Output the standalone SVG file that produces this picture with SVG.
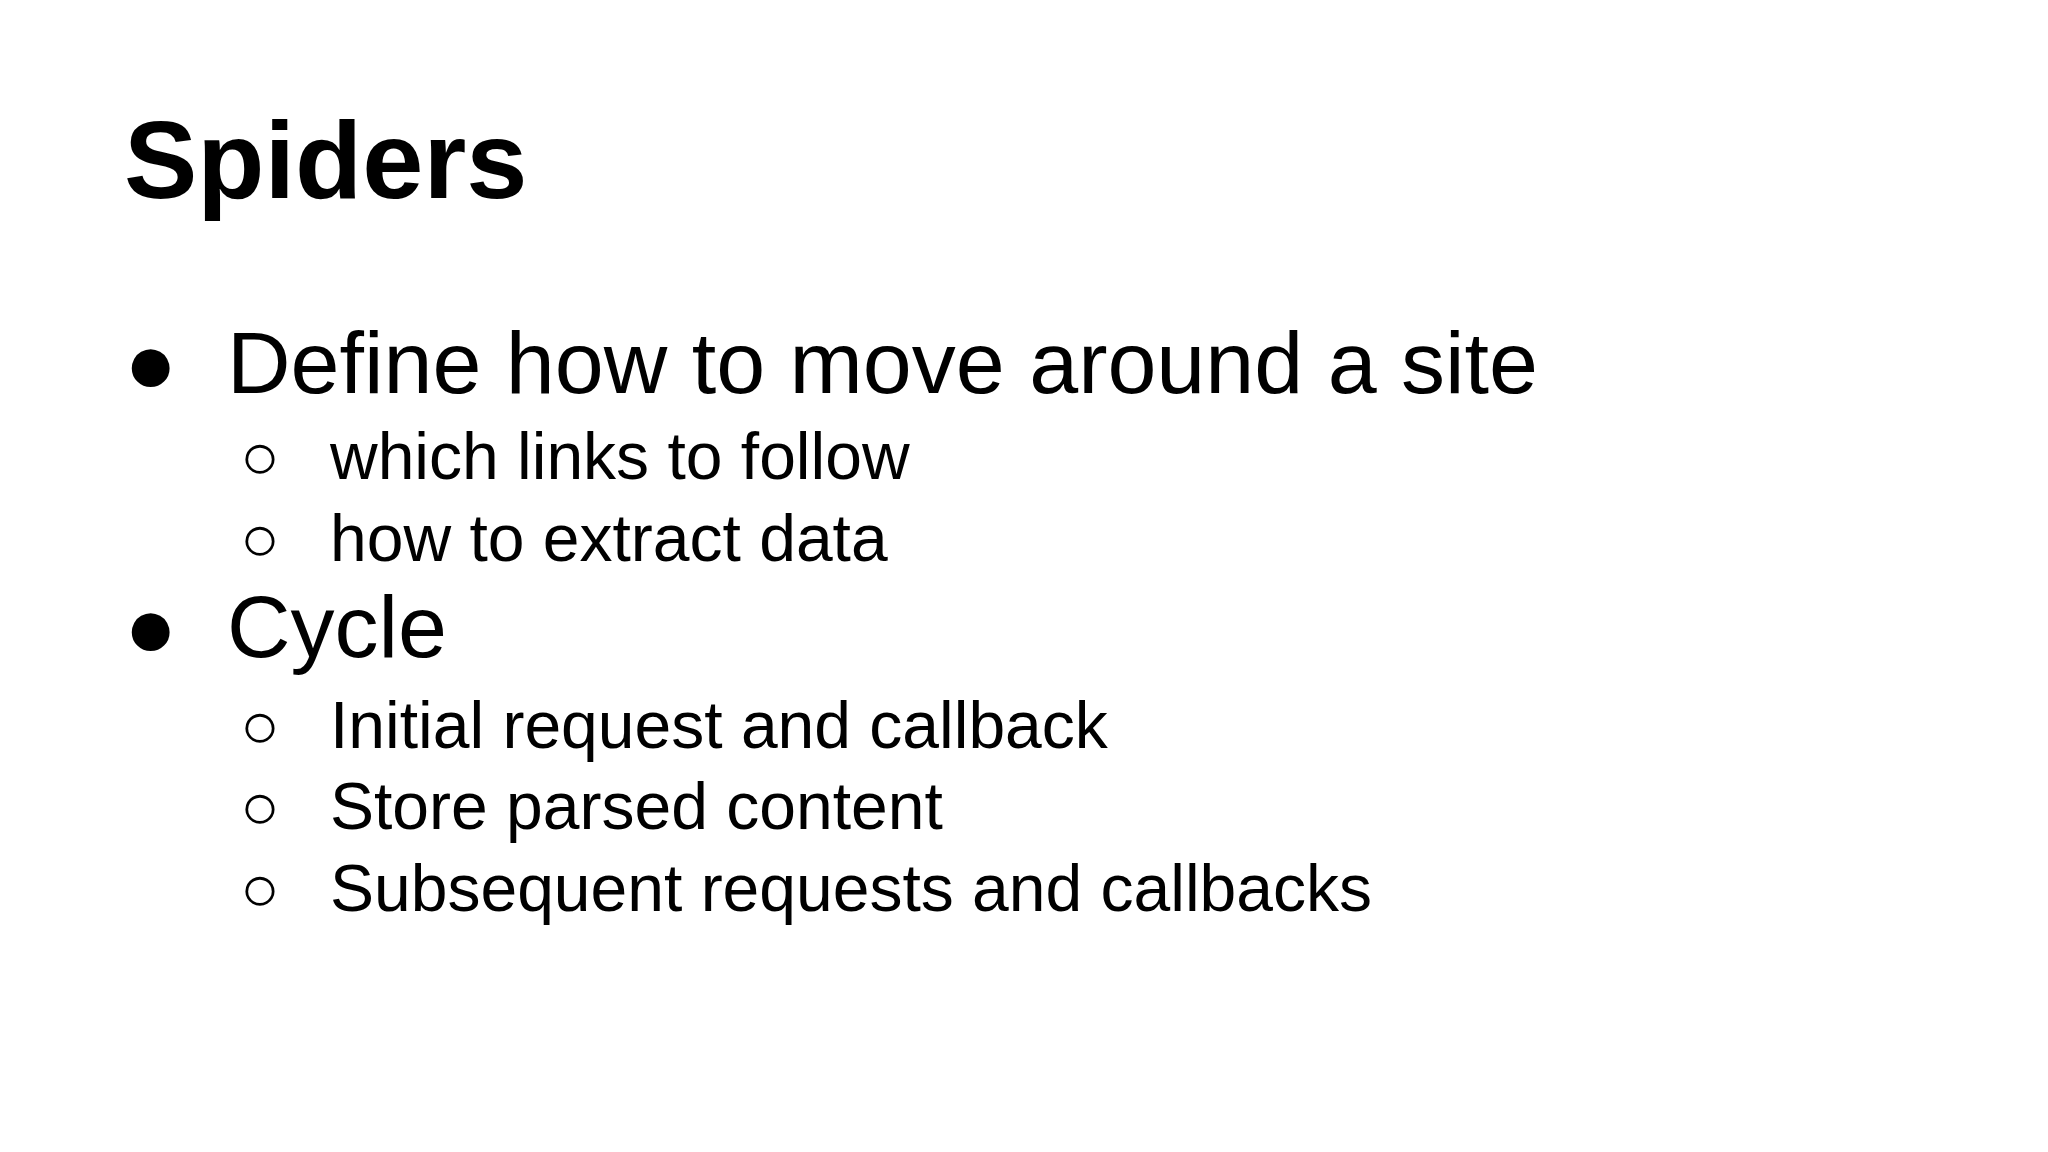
<svg xmlns="http://www.w3.org/2000/svg" width="2048" height="1152" viewBox="0 0 2048 1152">
<style>
text{font-family:"Liberation Sans",Arial,sans-serif;fill:#000}
.t{font-size:110px;font-weight:bold}
.l1{font-size:88px}
.l2{font-size:66px}
</style>
<rect width="2048" height="1152" fill="#fff"/>
<g id="title"><text class="t" x="124" y="198">Spiders</text></g>
<g id="b1"><text class="l1" x="124" y="393">●</text><text class="l1" x="227" y="393">Define how to move around a site</text></g>
<g id="s1"><text class="l2" x="240" y="479">○</text><text class="l2" x="330" y="479">which links to follow</text></g>
<g id="s2"><text class="l2" x="240" y="561">○</text><text class="l2" x="330" y="561">how to extract data</text></g>
<g id="b2"><text class="l1" x="124" y="657">●</text><text class="l1" x="227" y="657">Cycle</text></g>
<g id="s3"><text class="l2" x="240" y="748">○</text><text class="l2" x="330" y="748">Initial request and callback</text></g>
<g id="s4"><text class="l2" x="240" y="829">○</text><text class="l2" x="330" y="829">Store parsed content</text></g>
<g id="s5"><text class="l2" x="240" y="911">○</text><text class="l2" x="330" y="911">Subsequent requests and callbacks</text></g>
<g id="connectors"/>
</svg>
